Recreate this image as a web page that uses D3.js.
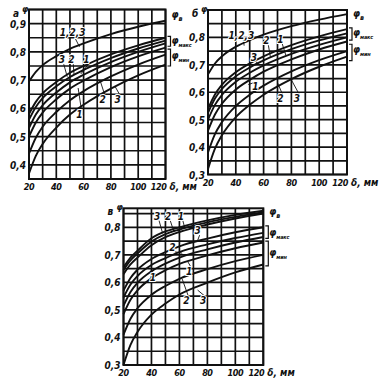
<!DOCTYPE html>
<html><head><meta charset="utf-8">
<script src="https://cdn.jsdelivr.net/npm/d3@7/dist/d3.min.js"></script>
<style>
body{margin:0;background:#fff;}
svg{display:block;}
text{font-family:"Liberation Sans Narrow","DejaVu Sans Condensed","Liberation Sans",sans-serif;font-style:italic;font-weight:bold;fill:#111;}
</style></head>
<body>
<script>
// thickness δ, mm (x values at which curves were read)
const xs = [20, 25, 30, 40, 50, 60, 80, 100, 120];
const xTicks = [20, 40, 60, 80, 100, 120];

// Panel а
const aPhiV = [0.695, 0.729, 0.753, 0.785, 0.811, 0.830, 0.863, 0.889, 0.910];
const aMax3 = [0.580, 0.623, 0.653, 0.693, 0.726, 0.750, 0.791, 0.823, 0.850];
const aMax2 = [0.560, 0.605, 0.636, 0.678, 0.711, 0.736, 0.778, 0.812, 0.840];
const aMax1 = [0.530, 0.578, 0.611, 0.656, 0.692, 0.719, 0.764, 0.800, 0.830];
const aMin1 = [0.500, 0.550, 0.585, 0.632, 0.670, 0.698, 0.746, 0.784, 0.815];
const aMin2 = [0.440, 0.496, 0.535, 0.587, 0.629, 0.661, 0.713, 0.755, 0.790];
const aMin3 = [0.370, 0.432, 0.474, 0.532, 0.578, 0.613, 0.670, 0.717, 0.755];
const aYTicks = [0.4, 0.5, 0.6, 0.7, 0.8, 0.9];

// Panel б
const bPhiV = [0.665, 0.705, 0.731, 0.766, 0.790, 0.810, 0.841, 0.865, 0.885];
const bMax3 = [0.540, 0.592, 0.627, 0.673, 0.705, 0.731, 0.772, 0.804, 0.830];
const bMax2 = [0.525, 0.577, 0.612, 0.658, 0.690, 0.716, 0.757, 0.789, 0.815];
const bMax1 = [0.500, 0.554, 0.590, 0.638, 0.671, 0.698, 0.740, 0.773, 0.800];
const bMin1 = [0.460, 0.519, 0.558, 0.610, 0.645, 0.675, 0.720, 0.756, 0.785];
const bMin2 = [0.380, 0.447, 0.491, 0.550, 0.591, 0.624, 0.676, 0.717, 0.750];
const bMin3 = [0.320, 0.394, 0.443, 0.509, 0.554, 0.591, 0.648, 0.693, 0.730];
const bYTicks = [0.3, 0.4, 0.5, 0.6, 0.7, 0.8];

// Panel в
const cPhiV3 = [0.655, 0.690, 0.715, 0.760, 0.785, 0.800, 0.825, 0.845, 0.860];
const cPhiV2 = [0.645, 0.680, 0.705, 0.748, 0.775, 0.792, 0.818, 0.838, 0.855];
const cPhiV1 = [0.630, 0.665, 0.690, 0.735, 0.764, 0.783, 0.810, 0.832, 0.850];
const cMax3 = [0.570, 0.616, 0.646, 0.685, 0.710, 0.731, 0.759, 0.782, 0.800];
const cMax2 = [0.545, 0.592, 0.623, 0.663, 0.688, 0.710, 0.738, 0.761, 0.780];
const cMax1 = [0.515, 0.565, 0.598, 0.640, 0.668, 0.690, 0.720, 0.745, 0.765];
const cMin1 = [0.485, 0.537, 0.571, 0.615, 0.644, 0.667, 0.698, 0.724, 0.745];
const cMin2 = [0.410, 0.468, 0.506, 0.555, 0.587, 0.613, 0.648, 0.677, 0.700];
const cMin3 = [0.300, 0.373, 0.420, 0.483, 0.523, 0.556, 0.599, 0.636, 0.665];
const cYTicks = [0.3, 0.4, 0.5, 0.6, 0.7, 0.8];

// curve labels: [text, label x, label y, leader end x, leader end y] in data units
const aLabels = [["1,2,3", 52, 0.855, 57, 0.818], ["3", 44, 0.76, 48, 0.712], ["2", 51, 0.76, 53, 0.718], ["1", 62, 0.76, 58, 0.722],
  ["1", 57, 0.565, 56, 0.672], ["2", 74, 0.62, 72, 0.700], ["3", 85, 0.62, 83, 0.678]];
const bLabels = [["1,2,3", 44, 0.795, 46, 0.770], ["3", 53, 0.715, 57, 0.700], ["2", 62, 0.775, 65, 0.725], ["1", 72, 0.78, 76, 0.735],
  ["1", 54, 0.61, 49, 0.628], ["2", 72, 0.565, 70, 0.635], ["3", 84, 0.565, 80, 0.645]];
const cLabels = [["3", 44, 0.828, 48, 0.778], ["2", 52, 0.828, 56, 0.785], ["1", 61, 0.828, 64, 0.795], ["3", 73, 0.775, 73, 0.752],
  ["2", 55, 0.715, 62, 0.706], ["1", 41, 0.605, 42, 0.620], ["1", 67, 0.625, 66, 0.675],
  ["2", 65, 0.52, 62, 0.612], ["3", 77, 0.52, 73, 0.572]];

const W = 380, H = 386;
const svg = d3.select("body").append("svg").attr("width", W).attr("height", H);
const fmt = v => d3.format(".1f")(v).replace(".", ",");

function phiLabel(g, x, y, sub) {
  const t = g.append("text").attr("x", x).attr("y", y).attr("font-size", 10);
  t.append("tspan").text("φ");
  t.append("tspan").attr("font-size", sub.length > 1 ? 5.5 : 7).attr("dy", 3)
    .attr("letter-spacing", sub.length > 1 ? -0.2 : 0).text(sub);
}

function panel(o) {
  const g = svg.append("g");
  const x = d3.scaleLinear().domain([20, 120]).range([o.l, o.r]);
  const y = d3.scaleLinear().domain(o.yd).range([o.b, o.t]);
  // grid
  d3.range(20, 121, 10).forEach(v => g.append("line").attr("x1", x(v)).attr("x2", x(v)).attr("y1", o.t).attr("y2", o.b)
    .attr("stroke", "#111").attr("stroke-width", 1.7));
  const yg = [];
  for (let v = Math.ceil(o.yd[0] * 20 - 1e-6) / 20; v <= o.yd[1] + 1e-6; v += 0.05) yg.push(v);
  yg.forEach(v => g.append("line").attr("x1", o.l).attr("x2", o.r).attr("y1", y(v)).attr("y2", y(v))
    .attr("stroke", "#111").attr("stroke-width", 1.7));
  g.append("rect").attr("x", o.l).attr("y", o.t).attr("width", o.r - o.l).attr("height", o.b - o.t)
    .attr("fill", "none").attr("stroke", "#111").attr("stroke-width", 2);
  // curves
  const line = d3.line().x((d, i) => x(xs[i])).y(d => y(d)).curve(d3.curveMonotoneX);
  o.series.forEach(s => g.append("path").attr("d", line(s)).attr("fill", "none").attr("stroke", "#111").attr("stroke-width", 1.9));
  // y tick labels
  o.yt.forEach(v => g.append("text").attr("x", o.l - 3).attr("y", y(v) + 4).attr("text-anchor", "end").attr("font-size", 10).text(fmt(v)));
  // x tick labels
  xTicks.forEach(v => g.append("text").attr("x", v === 120 ? x(v) + 1 : x(v)).attr("y", o.b + 11)
    .attr("text-anchor", v === 120 ? "end" : "middle").attr("font-size", 9).attr("letter-spacing", -0.4).text(v));
  g.append("text").attr("x", o.r + 4).attr("y", o.b + 11).attr("font-size", 10).text("δ, мм");
  // panel letter & axis name
  g.append("text").attr("x", o.l - 16).attr("y", o.t + 7).attr("font-size", 10).text(o.letter);
  g.append("text").attr("x", o.l - 7).attr("y", o.t + 2).attr("font-size", 9).text("φ");
  // curve labels
  o.labels.forEach(d => {
    g.append("line").attr("x1", x(d[1]) + 2).attr("y1", y(d[2]) + (d[2] > d[4] ? 1 : -8)).attr("x2", x(d[3])).attr("y2", y(d[4]))
      .attr("stroke", "#111").attr("stroke-width", 0.9);
    g.append("text").attr("x", x(d[1])).attr("y", y(d[2])).attr("text-anchor", "middle").attr("font-size", 10)
      .style("paint-order", "stroke").attr("stroke", "#fff").attr("stroke-width", 2).text(d[0]);
  });
  // right labels & brackets
  o.right.forEach(d => {
    if (d.br) {
      g.append("path").attr("d", `M${o.r + 2},${y(d.br[0])}h3V${y(d.br[1])}h-3`).attr("fill", "none").attr("stroke", "#111").attr("stroke-width", 1.2);
    }
    phiLabel(g, o.r + 6, y(d.v) + 3, d.sub);
  });
}

panel({l: 29, r: 165.5, t: 9.5, b: 179, yd: [0.35, 0.95], yt: aYTicks, letter: "а",
  series: [aPhiV, aMax3, aMax2, aMax1, aMin1, aMin2, aMin3], labels: aLabels,
  right: [{v: 0.93, sub: "в"}, {v: 0.84, sub: "макс", br: [0.855, 0.82]}, {v: 0.785, sub: "мин", br: [0.81, 0.75]}]});
panel({l: 208, r: 347, t: 10, b: 174.5, yd: [0.3, 0.9], yt: bYTicks, letter: "б",
  series: [bPhiV, bMax3, bMax2, bMax1, bMin1, bMin2, bMin3], labels: bLabels,
  right: [{v: 0.885, sub: "в"}, {v: 0.815, sub: "макс", br: [0.835, 0.79]}, {v: 0.755, sub: "мин", br: [0.775, 0.715]}]});
panel({l: 123.5, r: 263.3, t: 208.3, b: 365, yd: [0.3, 0.869], yt: cYTicks, letter: "в",
  series: [cPhiV3, cPhiV2, cPhiV1, cMax3, cMax2, cMax1, cMin1, cMin2, cMin3], labels: cLabels,
  right: [{v: 0.855, sub: "в"}, {v: 0.78, sub: "макс", br: [0.805, 0.76]}, {v: 0.705, sub: "мин", br: [0.75, 0.66]}]});
</script>
</body></html>
